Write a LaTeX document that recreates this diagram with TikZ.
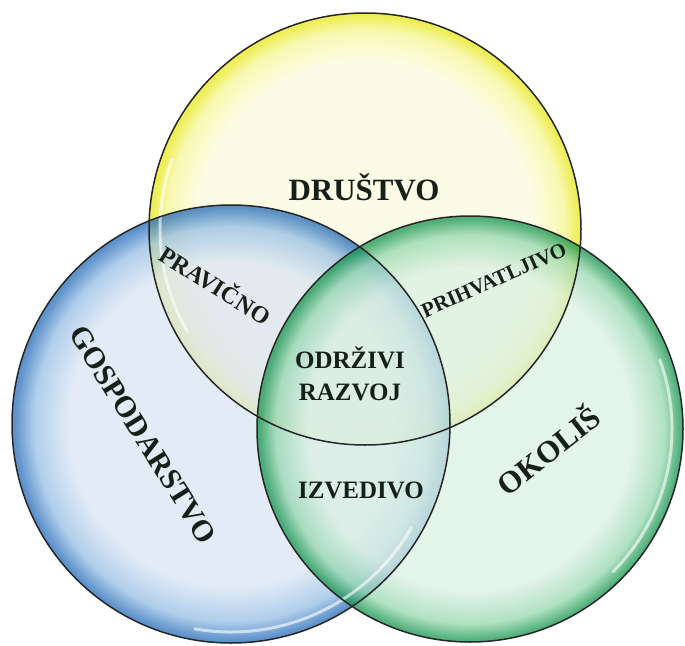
\documentclass[tikz,border=0pt]{standalone}
\usepackage{fontspec}
\setmainfont{Liberation Serif}

\definecolor{yelIn}{RGB}{251,251,222}
\definecolor{yelMid}{RGB}{246,246,150}
\definecolor{yelRim}{RGB}{232,232,30}
\definecolor{bluIn}{RGB}{218,229,243}
\definecolor{bluMid}{RGB}{150,190,228}
\definecolor{bluRim}{RGB}{40,110,185}
\definecolor{grnIn}{RGB}{218,240,226}
\definecolor{grnMid}{RGB}{150,215,175}
\definecolor{grnRim}{RGB}{25,150,80}
\definecolor{labelInk}{RGB}{22,32,24}

% the circle edge sits at 25bp in these shadings
\pgfdeclareradialshading{yelBubble}{\pgfpoint{0bp}{0bp}}{color(0bp)=(yelIn); color(19.5bp)=(yelIn); color(23bp)=(yelMid); color(24.7bp)=(yelRim); color(50bp)=(yelRim)}
\pgfdeclareradialshading{bluBubble}{\pgfpoint{0bp}{0bp}}{color(0bp)=(bluIn); color(18.5bp)=(bluIn); color(22.5bp)=(bluMid); color(24.7bp)=(bluRim); color(50bp)=(bluRim)}
\pgfdeclareradialshading{grnBubble}{\pgfpoint{0bp}{0bp}}{color(0bp)=(grnIn); color(19bp)=(grnIn); color(22.8bp)=(grnMid); color(24.7bp)=(grnRim); color(50bp)=(grnRim)}

\tikzset{
  bubble/.style={fill opacity=0.75},
  rim/.style={draw=black!85, line width=1.5pt},
  gloss/.style={white, line width=3pt, opacity=0.6, line cap=round},
  lbl/.style={text=labelInk, font=\bfseries\fontsize{#1}{#1}\selectfont, inner sep=0pt}
}

\begin{document}
\begin{tikzpicture}[x=1pt, y=-1pt]
\useasboundingbox (0,0) rectangle (685,645);

% Circles (fill)
\foreach \cx/\cy/\r/\shd in {365/229/216/yelBubble, 231/424/219/bluBubble, 470/429/213/grnBubble}
{
	\shade[bubble, shading=\shd] (\cx,\cy) circle (\r);
}

% Highlights
\draw[gloss] (231,424) ++(30:208) arc[start angle=30, end angle=100, radius=208];
\draw[gloss] (470,429) ++(-20:202) arc[start angle=-20, end angle=45, radius=202];
\draw[gloss] (365,229) ++(150:205) arc[start angle=150, end angle=200, radius=205];

% Circles (outline)
\foreach \cx/\cy/\r in {365/229/216, 231/424/219, 470/429/213}
{
	\draw[rim] (\cx,\cy) circle (\r);
}

% Labels
\node[lbl=31] (drustvo) at (364,187) {DRUŠTVO};
\node[lbl=30, rotate=-58] (gospodarstvo) at (143,435) {GOSPODARSTVO};
\node[lbl=31, rotate=38] (okolis) at (547,449) {OKOLIŠ};

\node[lbl=24, rotate=-32] (pravicno) at (216,284) {PRAVIČNO};
\node[lbl=21, rotate=24] (prihvatljivo) at (494,280) {PRIHVATLJIVO};
\node[lbl=25] (izvedivo) at (361,490) {IZVEDIVO};

\node[lbl=25, align=center] (razvoj) at (350,374) {ODRŽIVI\\[7pt]RAZVOJ};
\end{tikzpicture}
\end{document}
